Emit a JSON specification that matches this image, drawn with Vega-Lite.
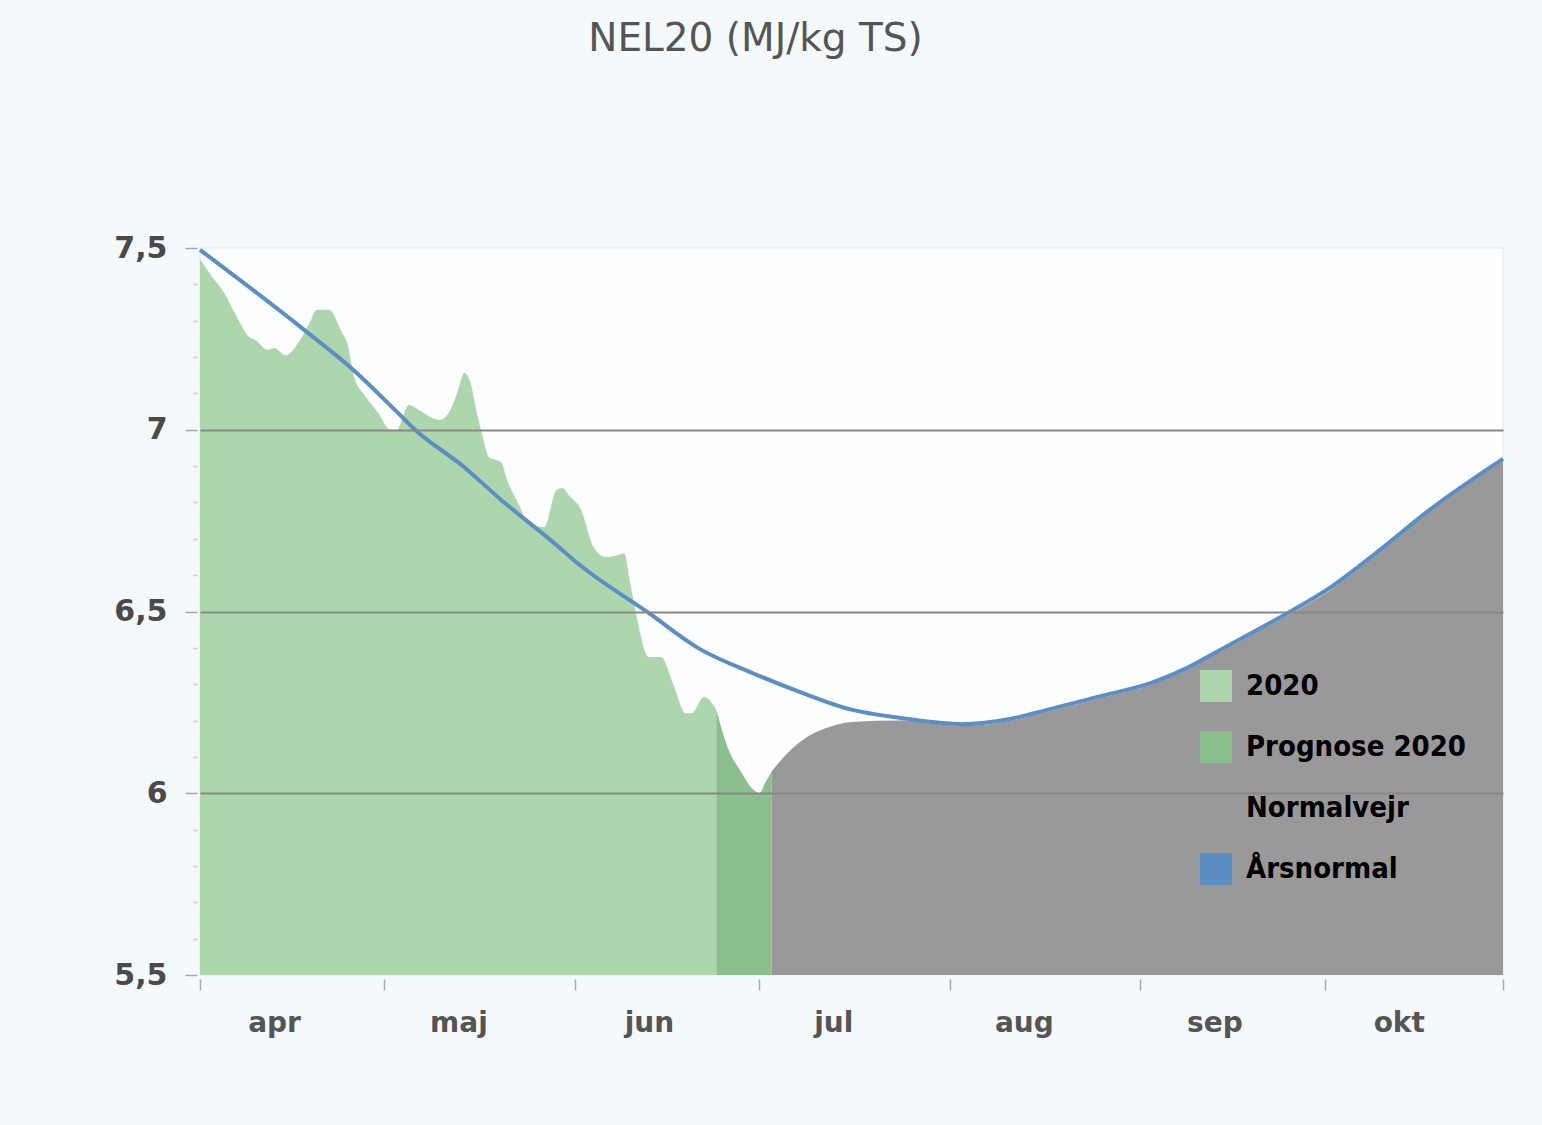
{
  "$schema": "https://vega.github.io/schema/vega-lite/v6.json",
  "width": 1303,
  "height": 727,
  "autosize": {"type": "none"},
  "padding": {"left": 200, "top": 248, "right": 39, "bottom": 150},
  "background": "#f4f9fc",
  "config": {
    "view": {"fill": "#fcfeff", "stroke": "#e9eff3", "strokeWidth": 1.5},
    "font": "DejaVu Sans"
  },
  "title": {
    "text": "NEL20 (MJ/kg TS)",
    "font": "DejaVu Sans",
    "fontSize": 39,
    "fontWeight": "normal",
    "color": "#555555",
    "anchor": "middle",
    "frame": "group",
    "offset": 174,
    "dx": -96
  },
  "data": {
    "values": [
      {"d": "2020-04-01", "s": "2020", "v": 7.47},
      {"d": "2020-04-03", "s": "2020", "v": 7.42},
      {"d": "2020-04-05", "s": "2020", "v": 7.375},
      {"d": "2020-04-07", "s": "2020", "v": 7.31},
      {"d": "2020-04-09", "s": "2020", "v": 7.255},
      {"d": "2020-04-10", "s": "2020", "v": 7.247},
      {"d": "2020-04-12", "s": "2020", "v": 7.22},
      {"d": "2020-04-13", "s": "2020", "v": 7.225},
      {"d": "2020-04-15", "s": "2020", "v": 7.205},
      {"d": "2020-04-17", "s": "2020", "v": 7.24},
      {"d": "2020-04-19", "s": "2020", "v": 7.30},
      {"d": "2020-04-20", "s": "2020", "v": 7.33},
      {"d": "2020-04-22", "s": "2020", "v": 7.33},
      {"d": "2020-04-24", "s": "2020", "v": 7.27},
      {"d": "2020-04-25", "s": "2020", "v": 7.235},
      {"d": "2020-04-26", "s": "2020", "v": 7.15},
      {"d": "2020-04-28", "s": "2020", "v": 7.09},
      {"d": "2020-04-30", "s": "2020", "v": 7.046},
      {"d": "2020-05-02", "s": "2020", "v": 7.0},
      {"d": "2020-05-03", "s": "2020", "v": 7.0},
      {"d": "2020-05-05", "s": "2020", "v": 7.068},
      {"d": "2020-05-07", "s": "2020", "v": 7.05},
      {"d": "2020-05-08", "s": "2020", "v": 7.04},
      {"d": "2020-05-10", "s": "2020", "v": 7.027},
      {"d": "2020-05-12", "s": "2020", "v": 7.063},
      {"d": "2020-05-13", "s": "2020", "v": 7.11},
      {"d": "2020-05-14", "s": "2020", "v": 7.156},
      {"d": "2020-05-15", "s": "2020", "v": 7.13},
      {"d": "2020-05-16", "s": "2020", "v": 7.05},
      {"d": "2020-05-17", "s": "2020", "v": 6.98},
      {"d": "2020-05-18", "s": "2020", "v": 6.925},
      {"d": "2020-05-20", "s": "2020", "v": 6.91},
      {"d": "2020-05-21", "s": "2020", "v": 6.86},
      {"d": "2020-05-23", "s": "2020", "v": 6.79},
      {"d": "2020-05-24", "s": "2020", "v": 6.752},
      {"d": "2020-05-25", "s": "2020", "v": 6.74},
      {"d": "2020-05-27", "s": "2020", "v": 6.732},
      {"d": "2020-05-29", "s": "2020", "v": 6.834},
      {"d": "2020-05-30", "s": "2020", "v": 6.84},
      {"d": "2020-05-31", "s": "2020", "v": 6.82},
      {"d": "2020-06-02", "s": "2020", "v": 6.78},
      {"d": "2020-06-04", "s": "2020", "v": 6.678},
      {"d": "2020-06-06", "s": "2020", "v": 6.65},
      {"d": "2020-06-08", "s": "2020", "v": 6.655},
      {"d": "2020-06-09", "s": "2020", "v": 6.66},
      {"d": "2020-06-10", "s": "2020", "v": 6.578},
      {"d": "2020-06-11", "s": "2020", "v": 6.49},
      {"d": "2020-06-13", "s": "2020", "v": 6.375},
      {"d": "2020-06-15", "s": "2020", "v": 6.375},
      {"d": "2020-06-17", "s": "2020", "v": 6.30},
      {"d": "2020-06-19", "s": "2020", "v": 6.22},
      {"d": "2020-06-20", "s": "2020", "v": 6.22},
      {"d": "2020-06-22", "s": "2020", "v": 6.265},
      {"d": "2020-06-24", "s": "2020", "v": 6.23},
      {"d": "2020-06-24", "s": "Prognose 2020", "v": 6.23},
      {"d": "2020-06-26", "s": "Prognose 2020", "v": 6.12},
      {"d": "2020-06-28", "s": "Prognose 2020", "v": 6.06},
      {"d": "2020-06-30", "s": "Prognose 2020", "v": 6.01},
      {"d": "2020-07-01", "s": "Prognose 2020", "v": 6.0},
      {"d": "2020-07-02", "s": "Prognose 2020", "v": 6.03},
      {"d": "2020-07-03", "s": "Prognose 2020", "v": 6.06},
      {"d": "2020-07-03", "s": "Normalvejr", "v": 6.06},
      {"d": "2020-07-05", "s": "Normalvejr", "v": 6.10},
      {"d": "2020-07-08", "s": "Normalvejr", "v": 6.146},
      {"d": "2020-07-12", "s": "Normalvejr", "v": 6.18},
      {"d": "2020-07-16", "s": "Normalvejr", "v": 6.196},
      {"d": "2020-07-24", "s": "Normalvejr", "v": 6.20},
      {"d": "2020-08-03", "s": "Normalvejr", "v": 6.185},
      {"d": "2020-08-11", "s": "Normalvejr", "v": 6.20},
      {"d": "2020-08-17", "s": "Normalvejr", "v": 6.225},
      {"d": "2020-08-25", "s": "Normalvejr", "v": 6.26},
      {"d": "2020-09-03", "s": "Normalvejr", "v": 6.30},
      {"d": "2020-09-08", "s": "Normalvejr", "v": 6.335},
      {"d": "2020-09-13", "s": "Normalvejr", "v": 6.38},
      {"d": "2020-09-19", "s": "Normalvejr", "v": 6.435},
      {"d": "2020-09-25", "s": "Normalvejr", "v": 6.49},
      {"d": "2020-10-02", "s": "Normalvejr", "v": 6.56},
      {"d": "2020-10-10", "s": "Normalvejr", "v": 6.665},
      {"d": "2020-10-18", "s": "Normalvejr", "v": 6.775},
      {"d": "2020-10-30", "s": "Normalvejr", "v": 6.915},
      {"d": "2020-04-01", "s": "Årsnormal", "v": 7.495},
      {"d": "2020-04-18", "s": "Årsnormal", "v": 7.274},
      {"d": "2020-04-26", "s": "Årsnormal", "v": 7.164},
      {"d": "2020-05-03", "s": "Årsnormal", "v": 7.05},
      {"d": "2020-05-06", "s": "Årsnormal", "v": 7.0},
      {"d": "2020-05-14", "s": "Årsnormal", "v": 6.897},
      {"d": "2020-05-20", "s": "Årsnormal", "v": 6.807},
      {"d": "2020-05-28", "s": "Årsnormal", "v": 6.697},
      {"d": "2020-06-02", "s": "Årsnormal", "v": 6.625},
      {"d": "2020-06-13", "s": "Årsnormal", "v": 6.496},
      {"d": "2020-06-21", "s": "Årsnormal", "v": 6.40},
      {"d": "2020-06-30", "s": "Årsnormal", "v": 6.33},
      {"d": "2020-07-08", "s": "Årsnormal", "v": 6.276},
      {"d": "2020-07-16", "s": "Årsnormal", "v": 6.23},
      {"d": "2020-07-24", "s": "Årsnormal", "v": 6.207},
      {"d": "2020-08-03", "s": "Årsnormal", "v": 6.19},
      {"d": "2020-08-11", "s": "Årsnormal", "v": 6.205},
      {"d": "2020-08-17", "s": "Årsnormal", "v": 6.23},
      {"d": "2020-08-25", "s": "Årsnormal", "v": 6.265},
      {"d": "2020-09-03", "s": "Årsnormal", "v": 6.305},
      {"d": "2020-09-08", "s": "Årsnormal", "v": 6.34},
      {"d": "2020-09-13", "s": "Årsnormal", "v": 6.385},
      {"d": "2020-09-19", "s": "Årsnormal", "v": 6.44},
      {"d": "2020-09-25", "s": "Årsnormal", "v": 6.496},
      {"d": "2020-10-02", "s": "Årsnormal", "v": 6.567},
      {"d": "2020-10-10", "s": "Årsnormal", "v": 6.67},
      {"d": "2020-10-18", "s": "Årsnormal", "v": 6.779},
      {"d": "2020-10-30", "s": "Årsnormal", "v": 6.92}
    ]
  },
  "encoding": {
    "x": {
      "field": "d",
      "type": "temporal",
      "scale": {
        "type": "utc",
        "domain": [
          {"year": 2020, "month": 4, "date": 1, "utc": true},
          {"year": 2020, "month": 10, "date": 30, "utc": true}
        ]
      },
      "axis": {
        "title": null,
        "domain": false,
        "grid": false,
        "values": [
          {"year": 2020, "month": 4, "date": 1, "utc": true},
          {"year": 2020, "month": 5, "date": 1, "utc": true},
          {"year": 2020, "month": 6, "date": 1, "utc": true},
          {"year": 2020, "month": 7, "date": 1, "utc": true},
          {"year": 2020, "month": 8, "date": 1, "utc": true},
          {"year": 2020, "month": 9, "date": 1, "utc": true},
          {"year": 2020, "month": 10, "date": 1, "utc": true},
          {"year": 2020, "month": 10, "date": 30, "utc": true}
        ],
        "labelExpr": "utcdate(datum.value) == 1 ? ['jan','feb','mar','apr','maj','jun','jul','aug','sep','okt','nov','dec'][utcmonth(datum.value)] : ''",
        "labelFlush": false,
        "labelOverlap": false,
        "labelAlign": "center",
        "labelOffset": 74,
        "labelFontSize": 28,
        "labelFontWeight": "bold",
        "labelColor": "#555555",
        "labelPadding": 19,
        "tickSize": 15,
        "tickWidth": 1.5,
        "tickColor": "#a8a8a8",
        "tickDash": [0, 4, 11, 30]
      }
    },
    "y": {
      "field": "v",
      "type": "quantitative",
      "stack": null,
      "scale": {"domain": [5.5, 7.5], "zero": false, "nice": false},
      "axis": {
        "title": null,
        "domain": false,
        "values": [5.5, 5.6, 5.7, 5.8, 5.9, 6.0, 6.1, 6.2, 6.3, 6.4, 6.5, 6.6, 6.7, 6.8, 6.9, 7.0, 7.1, 7.2, 7.3, 7.4, 7.5],
        "labelExpr": "abs(datum.value * 2 - round(datum.value * 2)) < 0.001 ? replace(format(datum.value, '.2~g'), '.', ',') : ''",
        "labelOverlap": false,
        "labelFontSize": 30,
        "labelFontWeight": "bold",
        "labelColor": "#4a4a4a",
        "labelPadding": 18,
        "tickSize": 15,
        "tickWidth": 1.5,
        "tickColor": "#a8a8a8",
        "tickDash": {
          "condition": {"test": "abs(datum.value * 2 - round(datum.value * 2)) < 0.001", "value": [0, 3, 12, 30]},
          "value": [0, 3, 4, 30]
        },
        "tickOpacity": {
          "condition": {"test": "abs(datum.value * 2 - round(datum.value * 2)) < 0.001", "value": 1},
          "value": 0.6
        },
        "grid": true,
        "gridColor": "#888888",
        "gridWidth": 2,
        "gridOpacity": {
          "condition": {"test": "abs(datum.value * 2 - round(datum.value * 2)) < 0.001 && datum.value > 5.7 && datum.value < 7.3", "value": 1},
          "value": 0
        },
        "zindex": 1
      }
    },
    "color": {
      "field": "s",
      "type": "nominal",
      "scale": {
        "domain": ["2020", "Prognose 2020", "Normalvejr", "Årsnormal"],
        "range": ["#aed6ad", "#8cbf8e", "#999999", "#5b8ec5"]
      },
      "legend": {
        "title": null,
        "orient": "none",
        "legendX": 1000,
        "legendY": 422,
        "padding": 0,
        "symbolType": "square",
        "symbolSize": 900,
        "symbolStrokeColor": "#e6e6e6",
        "symbolStrokeWidth": 2,
        "labelFont": "DejaVu Sans Condensed, DejaVu Sans",
        "labelFontSize": 29,
        "labelFontWeight": "bold",
        "labelColor": "#000000",
        "labelOffset": 14,
        "labelLimit": 600,
        "rowPadding": 23,
        "encode": {
          "symbols": {
            "update": {
              "fill": {"scale": "color", "field": "value"},
              "fillOpacity": {"value": 1},
              "stroke": {"value": "#ececec"},
              "strokeOpacity": {"value": 1},
              "strokeWidth": {"value": 2},
              "opacity": {"value": 1},
              "shape": {"value": "square"}
            }
          }
        }
      }
    }
  },
  "layer": [
    {
      "transform": [{"filter": "datum.s != 'Årsnormal'"}],
      "mark": {"type": "area", "interpolate": "monotone", "opacity": 1},
      "encoding": {"y2": {"datum": 5.5}}
    },
    {
      "transform": [{"filter": "datum.s == 'Årsnormal'"}],
      "mark": {"type": "line", "interpolate": "monotone", "strokeWidth": 4},
      "encoding": {}
    }
  ]
}
